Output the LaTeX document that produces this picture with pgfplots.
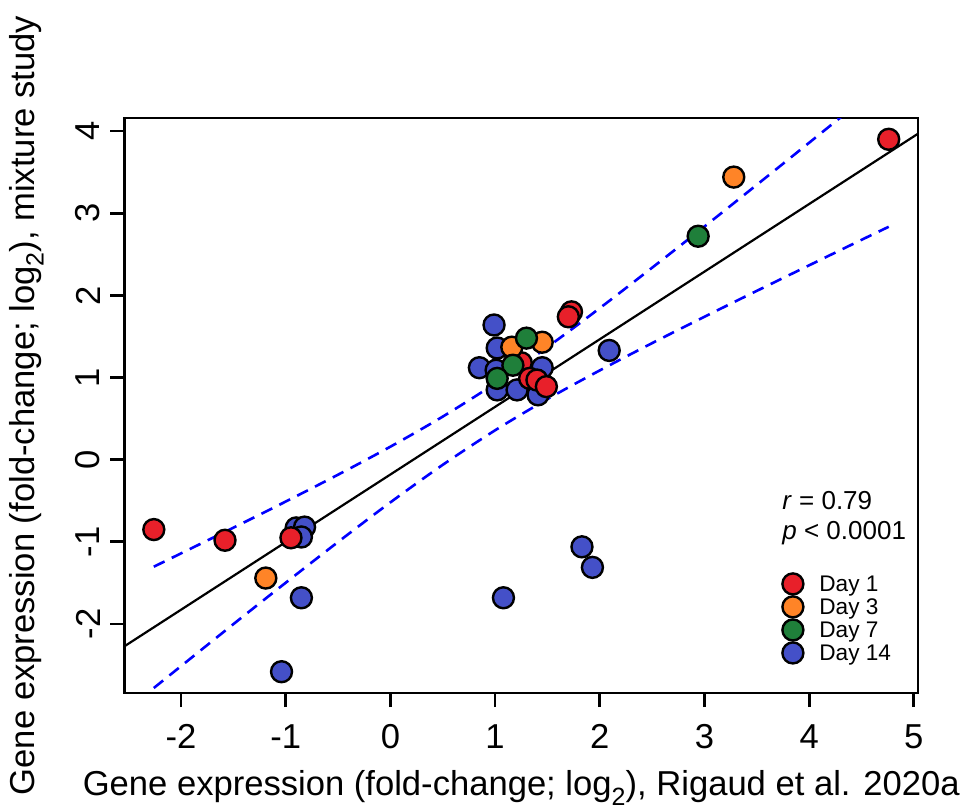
\documentclass[border=0pt]{standalone}
\usepackage{fontspec}
\setmainfont{Liberation Sans}
\usepackage{pgfplots}
\pgfplotsset{compat=1.18}
\definecolor{cRed}{HTML}{E8202A}
\definecolor{cOrange}{HTML}{FF8427}
\definecolor{cGreen}{HTML}{1F7F3A}
\definecolor{cBlue}{HTML}{4450C8}
\newcommand{\subtwo}{\raisebox{-0.27em}{\fontsize{12.5}{12}\selectfont 2}}
\begin{document}
\begin{tikzpicture}
\path[use as bounding box] (-62.25pt,-58pt) rectangle (420.25pt,346.5pt);
\begin{axis}[
  at={(0pt,0pt)}, anchor=south west,
  scale only axis, width=396.75pt, height=287.5pt,
  xmin=-2.54, xmax=5.04, ymin=-2.839, ymax=4.159,
  axis line style={line width=1.4pt},
  tick style={line width=1.4pt, black},
  tick align=outside, major tick length=7pt,
  xtick={-2,-1,0,1,2,3,4,5}, ytick={-2,-1,0,1,2,3,4},
  xticklabels={-2,-1,0,1,2,3,4,5},
  yticklabels={-2,-1,0,1,2,3,4},
  xtick pos=bottom, ytick pos=left,
  ticklabel style={font=\fontsize{17.3}{20}\selectfont},
  xticklabel style={anchor=center}, xticklabel shift=14.75pt,
  yticklabel style={rotate=90, anchor=center}, yticklabel shift=11.25pt,
  label style={font=\fontsize{17.3}{20}\selectfont},
  xlabel={Gene expression (fold-change; log\subtwo), Rigaud et al. 2020a},
  ylabel={Gene expression (fold-change; log\subtwo), mixture study},
  xlabel style={at={(axis description cs:0.5,-0.1652)}, anchor=center},
  ylabel style={at={(axis description cs:-0.1235,0.5)}, anchor=center},
  legend style={at={(axis description cs:0.8286,0.2087)}, anchor=north west,
    draw=none, fill=none, inner sep=0pt,
    font=\fontsize{11.3}{12.5}\selectfont, row sep=0.8pt,
    nodes={inner ysep=0pt, inner xsep=2pt},
    /tikz/every odd column/.append style={column sep=6pt}},
  legend cell align=left,
  legend image code/.code={\draw[#1] plot coordinates {(0pt,0.8pt)};},
  every axis plot/.append style={mark=*, mark size=5.25pt},
]
% blue points in overlapping groups (drawn first)
\addplot[only marks, mark options={draw=black, fill=cBlue, line width=1.2pt}, forget plot] coordinates {
 (0.99,1.64) (1.02,1.36) (0.85,1.12) (1.01,1.09) (1.45,1.12) (1.02,0.85) (1.21,0.85) (1.41,0.79)
 (-0.90,-0.83) (-0.82,-0.82) (-0.85,-0.94)};
\addplot[only marks, mark options={draw=black, fill=cRed, line width=1.2pt}] coordinates {
 (-2.26,-0.85) (-1.58,-0.98) (-0.95,-0.95) (4.76,3.90) (1.73,1.80) (1.70,1.74)
 (1.25,1.18) (1.33,0.99) (1.40,0.97) (1.49,0.89)};
\addlegendentry{Day 1}
\addplot[only marks, mark options={draw=black, fill=cOrange, line width=1.2pt}] coordinates {
 (-1.19,-1.44) (3.28,3.44) (1.16,1.37) (1.45,1.43)};
\addlegendentry{Day 3}
\addplot[only marks, mark options={draw=black, fill=cGreen, line width=1.2pt}] coordinates {
 (2.94,2.72) (1.30,1.48) (1.17,1.15) (1.02,0.99)};
\addlegendentry{Day 7}
\addplot[only marks, mark options={draw=black, fill=cBlue, line width=1.2pt}] coordinates {
 (2.09,1.33) (-0.85,-1.68) (-1.04,-2.58) (1.83,-1.06) (1.93,-1.31) (1.08,-1.68)};
\addlegendentry{Day 14}
% regression line
\addplot[black, line width=1.1pt, no marks, forget plot] coordinates {(-2.54,-2.270) (5.04,3.968)};
% confidence bands
\addplot[blue, line width=1.3pt, dash pattern=on 6pt off 4pt, no marks, smooth, forget plot] coordinates {
 (-2.26,-1.302) (-1.5,-0.827) (-1,-0.509) (-0.5,-0.182) (0,0.159) (0.5,0.525) (1,0.928) (1.5,1.371)
 (2,1.845) (2.5,2.337) (3,2.838) (3.5,3.346) (4,3.858) (4.5,4.372) (4.76,4.639)};
\addplot[blue, line width=1.3pt, dash pattern=on 6pt off 4pt, no marks, smooth, forget plot] coordinates {
 (-2.26,-2.778) (-1.5,-2.001) (-1,-1.497) (-0.5,-1.001) (0,-0.519) (0.5,-0.062) (1,0.358) (1.5,0.738)
 (2,1.087) (2.5,1.419) (3,1.740) (3.5,2.055) (4,2.366) (4.5,2.676) (4.76,2.835)};
\node[anchor=base west, inner sep=0pt, font=\fontsize{13}{15}\selectfont] at (axis description cs:0.8286,0.3183) {\textit{r} = 0.79};
\node[anchor=base west, inner sep=0pt, font=\fontsize{13}{15}\selectfont] at (axis description cs:0.8286,0.2661) {\textit{p} < 0.0001};
\end{axis}
\end{tikzpicture}
\end{document}
